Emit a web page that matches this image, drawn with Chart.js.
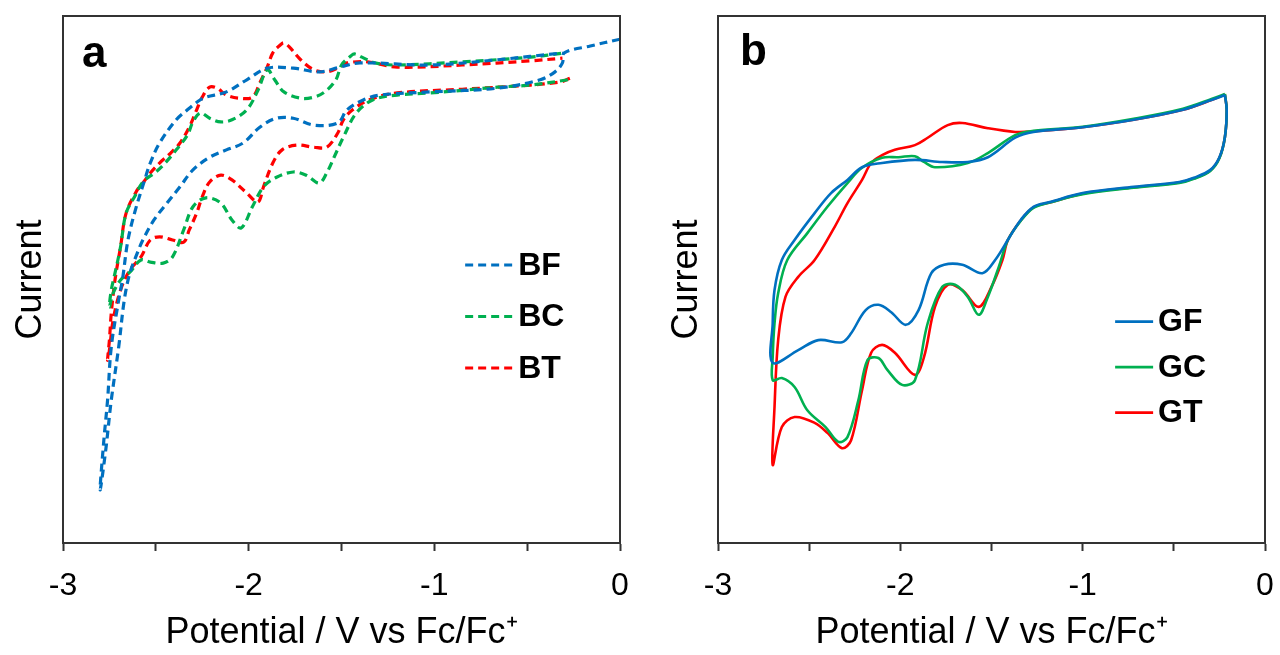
<!DOCTYPE html>
<html>
<head>
<meta charset="utf-8">
<script src="https://cdn.jsdelivr.net/npm/chart.js@4.4.0/dist/chart.umd.min.js"></script>
<style>
  body { margin: 0; background: #fff; overflow: hidden; }
  #wrap { position: relative; width: 1280px; height: 655px; overflow: hidden; }
  .panel { position: absolute; top: 0; width: 660px; height: 655px; }
  #pa { left: 0; }
  #pb { left: 640px; }
</style>
</head>
<body>
<div id="wrap">
  <div class="panel" id="pa"><canvas id="chartA" width="660" height="655"></canvas></div>
  <div class="panel" id="pb"><canvas id="chartB" width="660" height="655"></canvas></div>
</div>
<script>
// Potential (V vs Fc/Fc+) and current (arbitrary units, 0-100)

// panel a (dashed)
const bfX = [0, -0.16, -0.30, -0.31, -0.35, -0.43, -0.66, -1.02, -1.29, -1.38, -1.47, -1.52, -1.65, -1.76, -1.85, -1.94, -2.03, -2.12, -2.21, -2.30, -2.37, -2.44, -2.51, -2.57, -2.60, -2.64, -2.67, -2.70, -2.74, -2.77, -2.80, -2.78, -2.76, -2.74, -2.70, -2.68, -2.65, -2.61, -2.56, -2.53, -2.48, -2.39, -2.33, -2.26, -2.23, -2.12, -2.01, -1.90, -1.76, -1.62, -1.51, -1.40, -1.02, -0.66, -0.31];
const bfY = [95.6, 94.3, 93.0, 91.1, 89.4, 87.9, 86.3, 85.6, 85.0, 84.1, 82.2, 79.7, 79.3, 80.6, 80.6, 78.9, 75.9, 74.6, 73.2, 70.8, 67.6, 64.5, 61.3, 57.5, 55.0, 51.2, 46.1, 37.2, 27.1, 17.6, 10.1, 19.5, 27.1, 37.2, 46.1, 49.9, 57.5, 63.2, 68.9, 72.1, 75.9, 80.3, 82.2, 84.1, 84.6, 85.6, 87.9, 90.1, 90.1, 89.4, 90.3, 91.1, 90.7, 91.7, 93.0];

const bcX = [-0.28, -0.48, -0.66, -0.85, -1.02, -1.20, -1.33, -1.42, -1.49, -1.54, -1.58, -1.62, -1.69, -1.76, -1.85, -1.92, -1.98, -2.04, -2.09, -2.15, -2.23, -2.30, -2.35, -2.41, -2.46, -2.53, -2.58, -2.64, -2.69, -2.73, -2.75, -2.74, -2.72, -2.69, -2.66, -2.61, -2.57, -2.50, -2.45, -2.39, -2.33, -2.30, -2.26, -2.21, -2.15, -2.09, -2.01, -1.95, -1.90, -1.86, -1.81, -1.72, -1.65, -1.59, -1.53, -1.50, -1.45, -1.43, -1.39, -1.32, -1.20, -0.85, -0.48, -0.30];
const bcY = [87.9, 86.9, 86.5, 85.9, 85.4, 85.0, 84.1, 81.6, 77.0, 73.2, 70.2, 68.3, 69.8, 70.4, 69.4, 67.6, 63.8, 59.8, 61.3, 64.5, 65.5, 63.8, 59.4, 54.3, 53.1, 53.3, 53.7, 51.4, 49.9, 47.4, 44.8, 48.0, 51.2, 56.2, 62.6, 66.0, 68.5, 70.4, 72.1, 74.6, 77.4, 79.9, 81.6, 80.6, 79.9, 80.3, 82.2, 85.9, 89.8, 87.9, 85.6, 84.4, 84.6, 85.6, 87.9, 90.7, 92.4, 92.8, 92.2, 91.1, 90.7, 91.3, 92.2, 93.0];

const btX = [-0.27, -0.32, -0.48, -0.85, -1.20, -1.35, -1.44, -1.49, -1.52, -1.58, -1.65, -1.74, -1.82, -1.87, -1.92, -1.95, -2.01, -2.09, -2.15, -2.21, -2.25, -2.28, -2.32, -2.35, -2.41, -2.48, -2.53, -2.58, -2.64, -2.69, -2.73, -2.75, -2.76, -2.75, -2.74, -2.72, -2.69, -2.66, -2.60, -2.57, -2.53, -2.48, -2.42, -2.37, -2.32, -2.28, -2.25, -2.21, -2.17, -2.12, -2.05, -1.98, -1.94, -1.90, -1.87, -1.83, -1.81, -1.78, -1.72, -1.65, -1.58, -1.51, -1.47, -1.36, -1.20, -0.85, -0.48, -0.31];
const btY = [88.2, 87.5, 86.9, 86.1, 85.4, 84.1, 82.2, 80.3, 77.8, 75.1, 75.1, 75.5, 74.6, 72.1, 67.6, 64.7, 66.4, 68.9, 69.8, 68.5, 65.7, 62.6, 59.4, 57.1, 57.5, 58.1, 57.5, 54.3, 51.8, 48.0, 42.3, 36.6, 34.7, 38.5, 43.6, 49.9, 56.2, 62.6, 67.0, 68.3, 70.2, 72.1, 74.0, 75.9, 78.9, 82.2, 84.6, 86.5, 86.3, 85.0, 84.4, 84.6, 87.3, 90.3, 93.0, 94.5, 94.9, 94.1, 91.7, 89.8, 89.4, 90.3, 91.1, 91.3, 90.3, 90.7, 91.5, 92.0];

// panel b (solid)
const gfX = [-0.22, -0.21, -0.22, -0.25, -0.30, -0.39, -0.47, -0.72, -1.00, -1.18, -1.27, -1.34, -1.40, -1.48, -1.55, -1.66, -1.76, -1.83, -1.90, -1.97, -2.05, -2.12, -2.19, -2.27, -2.32, -2.45, -2.56, -2.70, -2.70, -2.69, -2.65, -2.58, -2.47, -2.38, -2.29, -2.21, -2.10, -1.92, -1.77, -1.63, -1.52, -1.37, -1.27, -1.00, -0.72, -0.45, -0.29, -0.22];
const gfY = [85.0, 82.2, 77.0, 73.2, 70.8, 69.3, 68.5, 67.6, 66.4, 64.7, 63.8, 61.3, 58.1, 53.7, 51.2, 52.8, 52.8, 51.2, 44.2, 41.4, 43.8, 45.2, 44.2, 39.8, 38.1, 38.5, 36.6, 34.2, 41.7, 48.0, 53.7, 57.5, 62.6, 66.4, 68.9, 71.3, 72.1, 72.7, 72.3, 72.3, 73.2, 76.9, 78.0, 78.9, 80.3, 82.2, 84.1, 85.0];

const gcX = [-0.22, -0.21, -0.22, -0.25, -0.30, -0.39, -0.47, -0.72, -1.00, -1.18, -1.27, -1.34, -1.41, -1.46, -1.52, -1.57, -1.63, -1.70, -1.77, -1.85, -1.92, -1.99, -2.07, -2.12, -2.18, -2.23, -2.29, -2.34, -2.41, -2.51, -2.58, -2.65, -2.70, -2.70, -2.69, -2.67, -2.62, -2.51, -2.40, -2.29, -2.21, -2.10, -2.01, -1.92, -1.87, -1.81, -1.63, -1.52, -1.37, -1.27, -1.00, -0.72, -0.45, -0.29, -0.22];
const gcY = [85.2, 82.2, 77.0, 73.0, 70.6, 69.1, 68.3, 67.4, 66.2, 64.6, 63.6, 61.1, 57.5, 52.4, 46.7, 43.3, 46.7, 49.0, 48.6, 41.7, 30.9, 30.0, 32.8, 35.1, 34.7, 27.1, 20.1, 19.2, 22.0, 25.2, 29.6, 31.3, 30.9, 35.3, 41.7, 47.4, 53.7, 58.8, 63.8, 68.3, 71.2, 73.1, 73.2, 73.4, 72.3, 71.3, 72.1, 74.0, 77.4, 78.2, 79.0, 80.5, 82.4, 84.3, 85.2];

const gtX = [-0.22, -0.21, -0.22, -0.25, -0.30, -0.39, -0.47, -0.72, -1.00, -1.18, -1.27, -1.34, -1.41, -1.44, -1.50, -1.57, -1.66, -1.74, -1.81, -1.87, -1.92, -2.03, -2.10, -2.16, -2.21, -2.27, -2.32, -2.40, -2.47, -2.58, -2.65, -2.70, -2.69, -2.67, -2.63, -2.56, -2.47, -2.36, -2.29, -2.21, -2.16, -2.10, -2.03, -1.92, -1.85, -1.74, -1.66, -1.52, -1.37, -1.27, -1.00, -0.72, -0.45, -0.29, -0.22];
const gtY = [85.1, 82.2, 77.0, 73.1, 70.7, 69.2, 68.4, 67.5, 66.3, 64.6, 63.7, 61.2, 57.5, 53.7, 48.6, 44.8, 48.0, 49.0, 44.8, 35.3, 31.9, 36.1, 37.6, 36.1, 29.0, 19.5, 18.0, 20.9, 22.8, 23.9, 22.0, 14.8, 25.8, 38.5, 46.7, 50.5, 53.7, 60.0, 64.5, 68.9, 72.1, 73.6, 74.6, 75.5, 76.9, 79.3, 79.7, 78.7, 78.0, 78.1, 78.9, 80.3, 82.2, 84.1, 85.1];

const BLUE = '#0070c0', GREEN = '#00b050', RED = '#ff0000';
const FONT = '"Liberation Sans", Arial, sans-serif';

function pts(xs, ys) {
  return xs.map((x, i) => ({ x: x, y: ys[i] }));
}

function series(label, xs, ys, color, dashed) {
  return {
    label: label,
    data: pts(xs, ys),
    showLine: true,
    borderColor: color,
    backgroundColor: color,
    borderWidth: dashed ? 3.2 : 2.6,
    borderDash: dashed ? [8, 5] : [],
    pointRadius: 0,
    tension: 0.35,
    fill: false
  };
}

// frame, panel letter and legend
const deco = {
  id: 'deco',
  afterDraw(chart, args, o) {
    const ctx = chart.ctx;
    const a = chart.chartArea;
    const w = a.right - a.left, h = a.bottom - a.top;
    ctx.save();
    ctx.strokeStyle = '#333';
    ctx.lineWidth = 2;
    ctx.strokeRect(a.left, a.top, w, h);
    ctx.fillStyle = '#000';
    ctx.font = 'bold 44px ' + FONT;
    ctx.textBaseline = 'alphabetic';
    ctx.fillText(o.label, a.left + o.labelDx, a.top + o.labelDy);
    chart.data.datasets.forEach((ds, i) => {
      const x0 = a.left + w * o.legX;
      const y = a.top + h * o.legY + i * o.legGap;
      ctx.strokeStyle = ds.borderColor;
      ctx.lineWidth = ds.borderWidth;
      ctx.setLineDash(ds.borderDash);
      ctx.beginPath();
      ctx.moveTo(x0, y);
      ctx.lineTo(x0 + o.legLen, y);
      ctx.stroke();
      ctx.setLineDash([]);
      ctx.font = 'bold 32px ' + FONT;
      ctx.textBaseline = 'middle';
      ctx.fillText(ds.label, x0 + o.legLen + 5, y + 1);
    });
    ctx.restore();
  }
};

function makeChart(id, datasets, yWidth, yTitlePad, rightPad, decoOpts) {
  return new Chart(document.getElementById(id), {
    type: 'scatter',
    data: { datasets: datasets },
    options: {
      responsive: false,
      animation: false,
      layout: { padding: { top: 16, right: rightPad, bottom: 0, left: 0 } },
      plugins: {
        legend: { display: false },
        tooltip: { enabled: false },
        deco: decoOpts
      },
      scales: {
        x: {
          type: 'linear',
          min: -3,
          max: 0,
          ticks: {
            stepSize: 0.5,
            autoSkip: false,
            maxRotation: 0,
            color: '#000',
            padding: 16,
            font: { family: FONT, size: 32 },
            callback: v => Number.isInteger(v) ? String(v) : ''
          },
          grid: { drawOnChartArea: false, tickLength: 8, tickWidth: 2, color: '#333' },
          border: { display: true, color: '#333', width: 2 },
          title: {
            display: true,
            text: 'Potential / V vs Fc/Fc\u207a',
            color: '#000',
            font: { family: FONT, size: 36 },
            padding: { top: 0, bottom: 0 }
          },
          afterFit: s => { s.height = 112; }
        },
        y: {
          type: 'linear',
          min: 0,
          max: 100,
          ticks: { display: false },
          grid: { display: false },
          border: { display: true, color: '#333', width: 2 },
          title: {
            display: true,
            text: 'Current',
            color: '#000',
            font: { family: FONT, size: 36 },
            padding: { top: yTitlePad, bottom: 0 }
          },
          afterFit: s => { s.width = yWidth; }
        }
      }
    },
    plugins: [deco]
  });
}

makeChart('chartA', [
  series('BF', bfX, bfY, BLUE, true),
  series('BC', bcX, bcY, GREEN, true),
  series('BT', btX, btY, RED, true)
], 63, 9, 40, { label: 'a', labelDx: 19, labelDy: 51, legX: 0.722, legY: 0.4725, legGap: 51.5, legLen: 48 });

makeChart('chartB', [
  series('GF', gfX, gfY, BLUE, false),
  series('GC', gcX, gcY, GREEN, false),
  series('GT', gtX, gtY, RED, false)
], 78, 25, 35, { label: 'b', labelDx: 22, labelDy: 49, legX: 0.726, legY: 0.58, legGap: 45.5, legLen: 38 });
</script>
</body>
</html>
